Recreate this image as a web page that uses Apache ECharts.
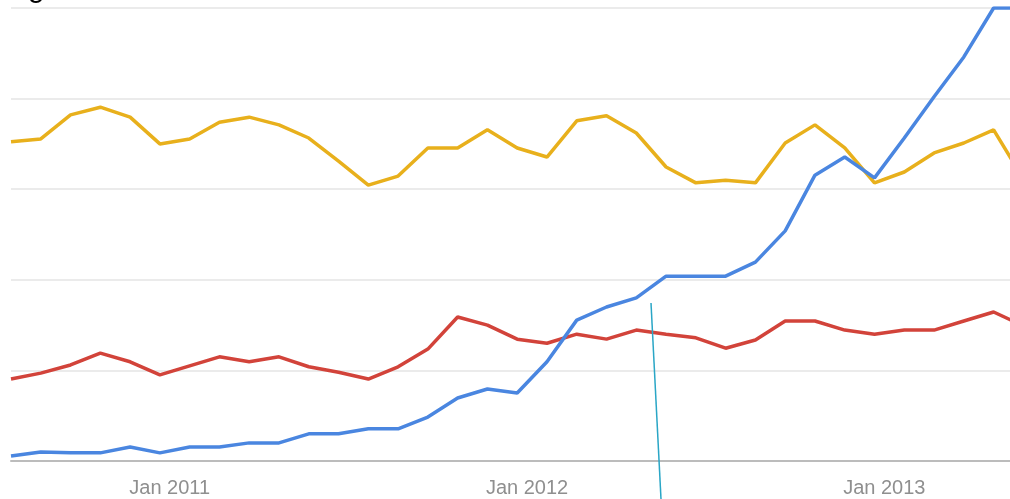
<!DOCTYPE html>
<html>
<head>
    <meta charset=utf-8>
    <title>trends</title>
    <script src="https://cdn.jsdelivr.net/npm/echarts@6/dist/echarts.min.js"></script>
    <style>
        html, body { margin: 0; padding: 0; background: #fff; }
    </style>
</head>
<body>
<div id="main" style="width: 1010px;height:499px;"></div>
<script type="text/javascript">

    // monthly points, index 0 = first month shown
    var blueData = [1.1, 2.0, 1.8, 1.8, 3.1, 1.8, 3.1, 3.1, 4.0, 4.0, 6.0, 6.0, 7.1, 7.1, 9.7, 13.9, 15.9, 15.0,
        21.9, 31.1, 34.0, 36.0, 40.8, 40.8, 40.8, 43.9, 50.8, 63.1, 67.1, 62.5, 71.3, 80.4, 89.2, 100, 100];
    var yellowData = [70.5, 71.1, 76.4, 78.1, 75.9, 70.0, 71.1, 74.8, 75.9, 74.2, 71.3, 66.2, 60.9, 62.9, 69.1,
        69.1, 73.1, 69.1, 67.1, 75.1, 76.2, 72.4, 64.9, 61.4, 62.0, 61.4, 70.2, 74.2, 69.1, 61.4, 63.8, 68.0,
        70.2, 73.1, 62.3];
    var redData = [18.1, 19.4, 21.2, 23.8, 21.9, 19.0, 21.0, 23.0, 21.9, 23.0, 20.8, 19.6, 18.1, 20.8, 24.7,
        31.8, 30.0, 26.9, 26.0, 28.0, 26.9, 28.9, 28.0, 27.2, 24.9, 26.7, 30.9, 30.9, 28.9, 28.0, 28.9, 28.9,
        30.9, 32.9, 29.8];
    var tickLabels = ['Jan 2011', 'Jan 2012', 'Jan 2013'];
    var tickPositions = [5.33, 17.33, 29.33];

    function pairs(arr) {
        return arr.map(function (v, i) { return [i, v]; });
    }

    var myChart = echarts.init(document.getElementById('main'));

    var option = {
        animation: false,
        // only the bottom of the cut-off heading shows
        title: {
            text: 'g',
            left: 28,
            top: -26,
            padding: 0,
            textStyle: { fontSize: 30, fontWeight: 'normal', color: '#000', fontFamily: 'Liberation Sans, Arial' }
        },
        grid: { left: 11, right: 0, top: 8, bottom: 38 },
        xAxis: {
            type: 'value',
            min: 0,
            max: 33.55,
            splitLine: { show: false },
            axisTick: { show: false },
            axisLine: { show: true, onZero: false, lineStyle: { color: '#bcbcbc', width: 2 } },
            axisLabel: {
                customValues: tickPositions,
                margin: 17,
                color: '#8f8f8f',
                fontSize: 20,
                fontFamily: 'Liberation Sans, Arial',
                formatter: function (val) {
                    for (var i = 0; i < tickPositions.length; i++) {
                        if (Math.abs(tickPositions[i] - val) < 0.01) return tickLabels[i];
                    }
                    return '';
                }
            }
        },
        yAxis: {
            type: 'value',
            min: 0,
            max: 100,
            interval: 20,
            axisLine: { show: false },
            axisTick: { show: false },
            axisLabel: { show: false },
            splitLine: { lineStyle: { color: '#ebebeb', width: 2 } }
        },
        series: [
            {
                type: 'line', data: pairs(yellowData), symbol: 'none',
                lineStyle: { color: '#e8b01c', width: 3.5 }
            },
            {
                type: 'line', data: pairs(redData), symbol: 'none',
                lineStyle: { color: '#d2433a', width: 3.5 }
            },
            {
                type: 'line', data: pairs(blueData), symbol: 'none',
                lineStyle: { color: '#4a86e0', width: 3.5 }
            }
        ],
        graphic: [
            {
                type: 'line',
                shape: { x1: 651, y1: 303, x2: 661, y2: 499 },
                style: { stroke: '#2aa6c6', lineWidth: 1.5 },
                z: 100
            }
        ]
    };

    myChart.setOption(option);

</script>
</body>
</html>
